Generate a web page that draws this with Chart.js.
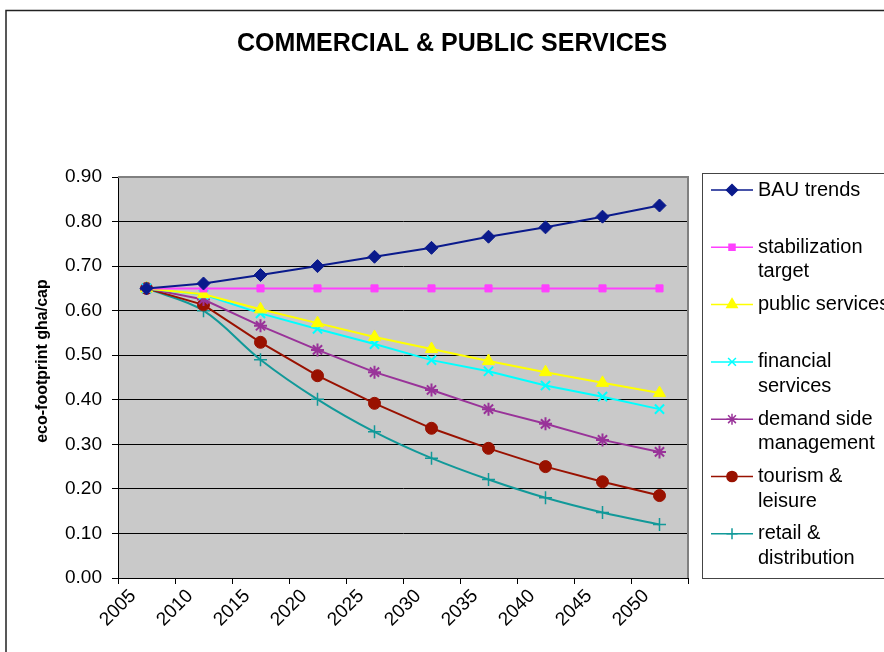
<!DOCTYPE html>
<html>
<head>
<meta charset="utf-8">
<script src="https://cdn.jsdelivr.net/npm/chart.js@4.4.0/dist/chart.umd.min.js"></script>
<style>
  html, body { margin: 0; padding: 0; background: #fff; }
  #wrap { width: 884px; height: 652px; }
</style>
</head>
<body>
<div id="wrap"><canvas id="eco-chart" width="884" height="652"></canvas></div>
<script>
// categories (5-year periods, plotted in the middle of each period)
let periods = ['2005', '2010', '2015', '2020', '2025', '2030', '2035', '2040', '2045', '2050'];
let xTickLabels = ['2005', '2010', '2015', '2020', '2025', '2030', '2035', '2040', '2045', '2050'];
let yTicks = [0, 0.1, 0.2, 0.3, 0.4, 0.5, 0.6, 0.7, 0.8, 0.9];

let seriesNames = ['BAU trends', 'stabilization target', 'public services', 'financial services',
                   'demand side management', 'tourism & leisure', 'retail & distribution'];

let bauTrends     = [0.65, 0.661, 0.680, 0.700, 0.721, 0.741, 0.766, 0.787, 0.811, 0.836];
let stabilization = [0.65, 0.65, 0.65, 0.65, 0.65, 0.65, 0.65, 0.65, 0.65, 0.65];
let publicServ    = [0.65, 0.637, 0.603, 0.572, 0.541, 0.514, 0.487, 0.462, 0.438, 0.415];
let financialServ = [0.65, 0.636, 0.594, 0.559, 0.525, 0.489, 0.464, 0.432, 0.407, 0.379];
let demandSide    = [0.65, 0.625, 0.566, 0.512, 0.462, 0.422, 0.379, 0.346, 0.310, 0.283];
let tourism       = [0.65, 0.613, 0.529, 0.454, 0.392, 0.336, 0.291, 0.250, 0.216, 0.185];
let retail        = [0.65, 0.600, 0.490, 0.401, 0.328, 0.269, 0.221, 0.180, 0.147, 0.120];

const FONT = "'Liberation Sans', Arial, sans-serif";

function series(i, data, color, style, radius, bw, tension) {
    return {
        label: seriesNames[i],
        data: data,
        xAxisID: 'x',
        borderColor: color,
        backgroundColor: color,
        pointBackgroundColor: color,
        pointBorderColor: color,
        pointStyle: style,
        pointRadius: radius,
        pointBorderWidth: bw,
        borderWidth: 2,
        tension: tension || 0,
        fill: false
    };
}

const datasets = [
    series(0, bauTrends, '#0a1a8c', 'rectRot', 6.5, 1),
    series(1, stabilization, '#ff40ff', 'rect', 5, 1),
    series(2, publicServ, '#ffff00', 'triangle', 7, 1),
    series(3, financialServ, '#00ffff', 'crossRot', 6.5, 2),
    series(4, demandSide, '#993399', 'star', 6.5, 2),
    series(5, tourism, '#991100', 'circle', 6, 1),
    series(6, retail, '#119999', 'cross', 6.5, 1.5, 0.35)
];

// background, frame, title, axis title, legend
const decor = {
    id: 'decor',
    beforeDraw(chart) {
        const c = chart.ctx, a = chart.chartArea;
        c.save();
        c.fillStyle = '#fff';
        c.fillRect(0, 0, chart.width, chart.height);
        c.strokeStyle = '#222';
        c.lineWidth = 1.5;
        c.strokeRect(6, 10.5, 1200, 1200);
        c.fillStyle = '#c9c9c9';
        c.fillRect(a.left, a.top, a.right - a.left, a.bottom - a.top);
        c.restore();
    },
    beforeDatasetsDraw(chart) {
        const c = chart.ctx, a = chart.chartArea;
        c.save();
        c.strokeStyle = '#808080';
        c.lineWidth = 2;
        c.beginPath();
        c.moveTo(a.left, a.top);
        c.lineTo(a.right, a.top);
        c.lineTo(a.right, a.bottom);
        c.stroke();
        c.restore();
    },
    afterDraw(chart) {
        const c = chart.ctx;
        c.save();
        c.fillStyle = '#000';
        c.textAlign = 'center';
        c.textBaseline = 'middle';
        c.font = 'bold 25px ' + FONT;
        c.fillText('COMMERCIAL & PUBLIC SERVICES', 452, 44);

        c.save();
        c.translate(43, 361);
        c.rotate(-Math.PI / 2);
        c.font = 'bold 16px ' + FONT;
        c.fillText('eco-footprint gha/cap', 0, 0);
        c.restore();

        // legend box
        c.strokeStyle = '#444';
        c.lineWidth = 1;
        c.strokeRect(702.5, 173.5, 300, 405);

        c.font = '20px ' + FONT;
        c.textAlign = 'left';
        const drawPoint = Chart.helpers && Chart.helpers.drawPoint;
        chart.data.datasets.forEach((ds, i) => {
            const y = 190 + i * 57.3;
            c.strokeStyle = ds.borderColor;
            c.lineWidth = 1.5;
            c.beginPath();
            c.moveTo(711, y);
            c.lineTo(753, y);
            c.stroke();
            if (drawPoint) {
                c.fillStyle = ds.backgroundColor;
                drawPoint(c, {
                    pointStyle: ds.pointStyle,
                    radius: ds.pointRadius * 0.85,
                    borderWidth: ds.pointBorderWidth,
                    rotation: 0
                }, 732, y);
            }
            // wrap the name like the original legend
            c.fillStyle = '#000';
            const words = ds.label.split(' ');
            let lines = [], cur = '';
            words.forEach(w => {
                const t = cur ? cur + ' ' + w : w;
                if (cur && c.measureText(t).width > 140) { lines.push(cur); cur = w; }
                else cur = t;
            });
            lines.push(cur);
            lines.forEach((ln, k) => c.fillText(ln, 758, y + k * 24.5));
        });
        c.restore();
    }
};

const ctx = document.getElementById('eco-chart').getContext('2d');
const chart = new Chart(ctx, {
    type: 'line',
    data: { labels: periods, datasets: datasets },
    options: {
        responsive: false,
        animation: false,
        layout: { padding: { top: 177, right: 196, bottom: 4, left: 0 } },
        plugins: { legend: { display: false }, tooltip: { enabled: false }, title: { display: false } },
        scales: {
            x: {
                type: 'category',
                display: false,
                offset: true
            },
            xTicks: {
                type: 'linear',
                position: 'bottom',
                min: 2005,
                max: 2055,
                afterBuildTicks(scale) {
                    scale.ticks = xTickLabels.map(v => ({ value: Number(v) })).concat([{ value: 2055 }]);
                },
                afterFit(scale) { scale.height = 70; },
                grid: { drawOnChartArea: false, drawTicks: true, tickLength: 6, color: '#000' },
                border: { color: '#000', width: 1 },
                ticks: {
                    autoSkip: false,
                    maxRotation: 45,
                    minRotation: 45,
                    labelOffset: 15,
                    padding: 1,
                    color: '#000',
                    font: { family: FONT, size: 19 },
                    callback: (v, i) => xTickLabels[i] || ''
                }
            },
            y: {
                min: 0,
                max: 0.9,
                afterBuildTicks(scale) {
                    scale.ticks = yTicks.map(v => ({ value: v }));
                },
                afterFit(scale) { scale.width = 118; },
                grid: { color: '#000', lineWidth: 1, drawTicks: true, tickLength: 6 },
                border: { color: '#000', width: 1 },
                ticks: {
                    padding: 10,
                    color: '#000',
                    font: { family: FONT, size: 19 },
                    callback: v => v.toFixed(2)
                }
            }
        }
    },
    plugins: [decor]
});
</script>
</body>
</html>
